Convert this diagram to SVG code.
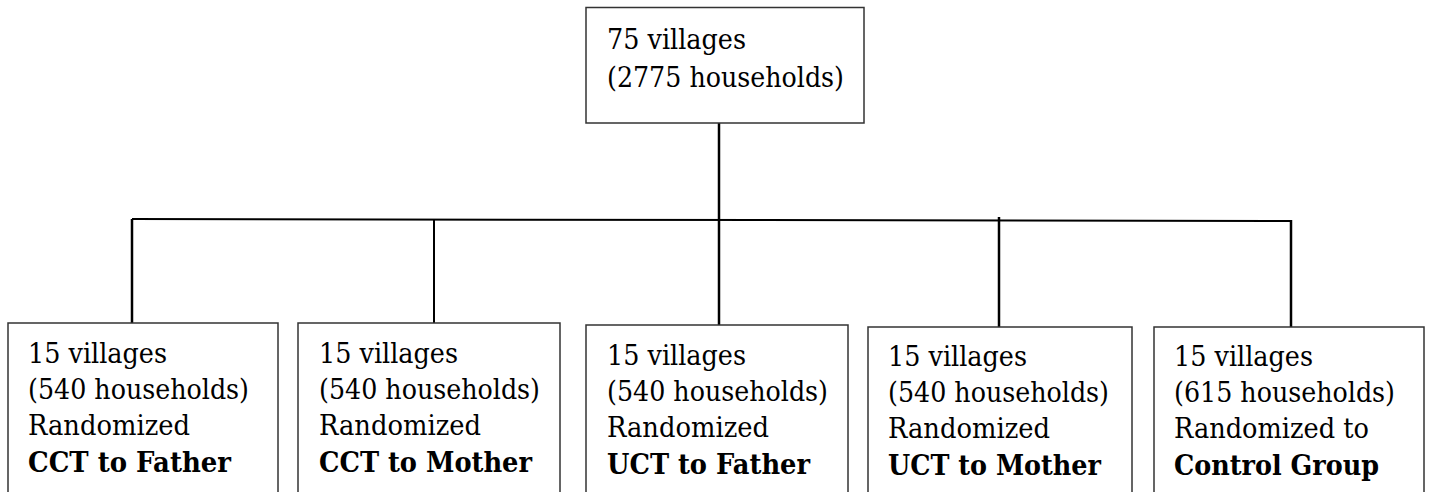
<svg xmlns="http://www.w3.org/2000/svg" width="1431" height="492" viewBox="0 0 1431 492">
<style>
.box{fill:#fff;stroke:#333;stroke-width:1.5}
.t{font-family:'DejaVu Serif','Liberation Serif',serif;font-size:27.5px;fill:#000}
.b{font-weight:bold}
.c{stroke:#000;fill:none}
</style>
<rect width="1431" height="492" fill="#fff"/>
<g id="connectors">
<line class="c" x1="132" y1="219" x2="1292" y2="221" stroke-width="2"/>
<line class="c" x1="719" y1="123" x2="719" y2="325" stroke-width="2.5"/>
<line class="c" x1="132" y1="219" x2="132" y2="323" stroke-width="2.5"/>
<line class="c" x1="434" y1="220" x2="434" y2="323" stroke-width="2"/>
<line class="c" x1="999" y1="217" x2="999" y2="327" stroke-width="2.5"/>
<line class="c" x1="1291" y1="220" x2="1291" y2="327" stroke-width="2.5"/>
</g>
<g id="top">
<rect class="box" x="586" y="7.5" width="278" height="115.5"/>
<text class="t" x="607" y="49" textLength="139" lengthAdjust="spacingAndGlyphs">75 villages</text>
<text class="t" x="607" y="87" textLength="237" lengthAdjust="spacingAndGlyphs">(2775 households)</text>
</g>
<g id="cct-father">
<rect class="box" x="8" y="323" width="270" height="180"/>
<text class="t" x="28" y="363" textLength="139" lengthAdjust="spacingAndGlyphs">15 villages</text>
<text class="t" x="28" y="399" textLength="221" lengthAdjust="spacingAndGlyphs">(540 households)</text>
<text class="t" x="28" y="435" textLength="162" lengthAdjust="spacingAndGlyphs">Randomized</text>
<text class="t b" x="28" y="472" textLength="203" lengthAdjust="spacingAndGlyphs">CCT to Father</text>
</g>
<g id="cct-mother">
<rect class="box" x="298" y="323" width="262" height="180"/>
<text class="t" x="319" y="363" textLength="139" lengthAdjust="spacingAndGlyphs">15 villages</text>
<text class="t" x="319" y="399" textLength="221" lengthAdjust="spacingAndGlyphs">(540 households)</text>
<text class="t" x="319" y="435" textLength="162" lengthAdjust="spacingAndGlyphs">Randomized</text>
<text class="t b" x="319" y="472" textLength="213" lengthAdjust="spacingAndGlyphs">CCT to Mother</text>
</g>
<g id="uct-father">
<rect class="box" x="586" y="325" width="262" height="180"/>
<text class="t" x="607" y="365" textLength="139" lengthAdjust="spacingAndGlyphs">15 villages</text>
<text class="t" x="607" y="401" textLength="221" lengthAdjust="spacingAndGlyphs">(540 households)</text>
<text class="t" x="607" y="437" textLength="162" lengthAdjust="spacingAndGlyphs">Randomized</text>
<text class="t b" x="607" y="474" textLength="203" lengthAdjust="spacingAndGlyphs">UCT to Father</text>
</g>
<g id="uct-mother">
<rect class="box" x="868" y="327" width="264" height="180"/>
<text class="t" x="888" y="366" textLength="139" lengthAdjust="spacingAndGlyphs">15 villages</text>
<text class="t" x="888" y="402" textLength="221" lengthAdjust="spacingAndGlyphs">(540 households)</text>
<text class="t" x="888" y="438" textLength="162" lengthAdjust="spacingAndGlyphs">Randomized</text>
<text class="t b" x="888" y="475" textLength="213" lengthAdjust="spacingAndGlyphs">UCT to Mother</text>
</g>
<g id="control">
<rect class="box" x="1154" y="327" width="270" height="180"/>
<text class="t" x="1174" y="366" textLength="139" lengthAdjust="spacingAndGlyphs">15 villages</text>
<text class="t" x="1174" y="402" textLength="221" lengthAdjust="spacingAndGlyphs">(615 households)</text>
<text class="t" x="1174" y="438" textLength="195" lengthAdjust="spacingAndGlyphs">Randomized to</text>
<text class="t b" x="1174" y="475" textLength="205" lengthAdjust="spacingAndGlyphs">Control Group</text>
</g>
</svg>
